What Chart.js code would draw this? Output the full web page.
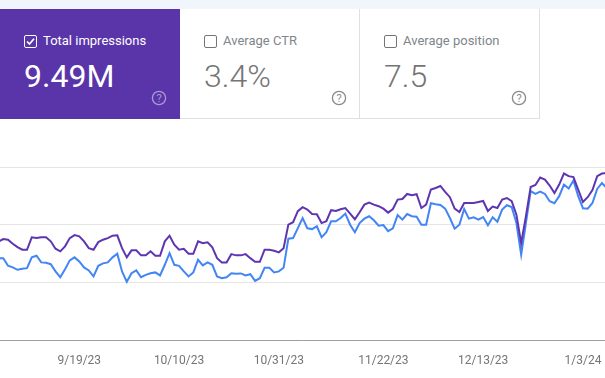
<!DOCTYPE html>
<html><head><meta charset="utf-8">
<script src="https://cdn.jsdelivr.net/npm/chart.js@4"></script>
<style>
html,body{margin:0;padding:0;background:#fff;overflow:hidden}
body{width:605px;height:378px;position:relative;font-family:Roboto,sans-serif}
.strip{position:absolute;left:0;top:0;width:605px;height:9px;background:#f1f5fc}
.card{position:absolute;top:9px;width:180px;height:110px;box-sizing:border-box;background:#fff;border-bottom:1px solid #e0e0e0;border-right:1px solid #e0e0e0;color:#757575}
.card.on{left:0;background:#5a35a9;color:#fff;border:0;height:110px}
.box{position:absolute;left:24px;top:26px;width:11px;height:11px;border:1.5px solid #757575;border-radius:2px}
.on .box{border-color:#fff}
.box svg{position:absolute;left:0;top:0}
.name{position:absolute;left:43px;top:24px;font-size:13px;line-height:16px;white-space:nowrap;color:#80868b}
.on .name{color:#fff;font-weight:400}
.val{position:absolute;left:24px;top:48px;font-size:32px;line-height:38px;white-space:nowrap;font-weight:300}
.on .val{font-weight:400}
.help{position:absolute;left:151px;top:81px}
#wrap{position:absolute;left:-10px;top:0;width:630px;height:378px}
</style></head><body>
<div class="strip"></div>
<div class="card on" style="left:0"><div class="box"><svg width="11" height="11"><path d="M2 5.5l2.5 2.5L9 2.8" fill="none" stroke="#fff" stroke-width="1.7"/></svg></div><div class="name">Total impressions</div><div class="val">9.49M</div><svg class="help" width="16" height="16"><circle cx="8" cy="8" r="6.6" fill="none" stroke="#a999d4" stroke-width="1.3"/><text x="8" y="12" font-size="11" text-anchor="middle" fill="#a999d4" font-family="Roboto">?</text></svg></div>
<div class="card" style="left:180px"><div class="box"></div><div class="name">Average CTR</div><div class="val">3.4%</div><svg class="help" width="16" height="16"><circle cx="8" cy="8" r="6.6" fill="none" stroke="#8a8a8a" stroke-width="1.3"/><text x="8" y="12" font-size="11" text-anchor="middle" fill="#8a8a8a" font-family="Roboto">?</text></svg></div>
<div class="card" style="left:360px"><div class="box"></div><div class="name">Average position</div><div class="val">7.5</div><svg class="help" width="16" height="16"><circle cx="8" cy="8" r="6.6" fill="none" stroke="#8a8a8a" stroke-width="1.3"/><text x="8" y="12" font-size="11" text-anchor="middle" fill="#8a8a8a" font-family="Roboto">?</text></svg></div>
<div id="wrap"><canvas id="c" width="630" height="378" style="display:block;width:630px;height:378px"></canvas></div>
<script>
const startDate = [2023, 8, 2];
const tickLabels = ['9/19/23','10/10/23','10/31/23','11/22/23','12/13/23','1/3/24'];
const gridValues = [0, 28.75, 57.5, 86.25];
const impressionsA = [49,50.3,50,48,46.3,45,45,51.2,50.8,51.2,51.2,49.2,45.5,44.2,46.7,50.8,52.3,51.7,49.2,45.8,45,48.8,50,50.8,52,52.2,45.8,41.2,44.7,44.7,42.2,42.2,44.2,
 42,42,49.2,52,47.5,45,45.5,43,43,49.2,48.3,48.7,46.2,40.8,38.7,38.7,42.8,42.2,42.2,42.8,40.8,39,39,45,45,44.5,43.7,45.8,57.5,58.7,
 64.2,66.2,65,62.8,62.7,58.3,59.2,64.7,64.3,65.2,65.8,63,60.2,63.7,67.5,68.5,67.5,66.7,65.5,63.5,65.3,70,70.3,72.8,72.2,72.7,65.8,67.5,75,75.8,76.8,
 73.8,71.2,65.5,63.8,68.3,68.3,68.3,68.8,69.3,64.3,66.5,65.8,70,70.8,69.2,62.5,48.3,61.7,76.3,77.3,81,80,77,73.3,77.5,83,81.7,81.2,75,68.8,71.2,74.7,81.7,83,83.3];
const impressionsB = [40.7,40.8,37,36.2,35,35.5,35.8,41.2,42,38.7,38.5,37.8,34.2,31.3,35.3,39.7,41.2,39.2,36.2,34.7,31.7,37,38.2,38.7,41.2,43,34.2,29,33.3,34.7,31.3,32.5,33.3,
 33.7,32.2,37.5,43.3,37.5,37,34.2,31.7,33.7,40,37.2,38.7,37.5,31.7,30.8,31.3,33.3,33,33.2,32.2,32.8,29.5,30.8,36,36,33.7,34.2,36,50.5,50.8,
 55.8,60.8,55.7,55.3,56.7,51.2,53.8,59.2,59.2,60.8,63,57.5,53.7,58.3,60.5,61.7,59.7,57,57.3,54.3,55.7,62.3,60,62.8,61.7,61.5,57.5,57.5,68.2,67.7,67.3,
 65.5,60.8,55.5,57.5,65.3,60.5,61.2,60,61.3,57.2,61.2,59,65,67.2,66.3,58.3,42.5,58.3,74.2,72.8,74,72.8,69.2,68.2,71.7,77.5,75.5,79.5,71.7,65.7,65.5,68.3,75.3,78.3,75.8];
const labels = impressionsA.map((_, i) => {
  const d = new Date(startDate[0], startDate[1], startDate[2] + i);
  return (d.getMonth()+1) + '/' + d.getDate() + '/' + String(d.getFullYear()).slice(2);
});
new Chart(document.getElementById('c'), {
  type: 'line',
  data: { labels, datasets: [
    { label:'Series A', data: impressionsA, borderColor:'#5e35b1', borderWidth:2, pointRadius:0, tension:0, fill:false },
    { label:'Series B', data: impressionsB, borderColor:'#4285f4', borderWidth:2, pointRadius:0, tension:0, fill:false }
  ]},
  options: {
    responsive:false, animation:false,
    layout:{ padding:{ left:8.5, right:13.3, top:167, bottom:0 } },
    plugins:{ legend:{display:false}, tooltip:{enabled:false} },
    scales:{
      x:{ offset:false,
        afterFit:s=>{ s.height = 38; s.paddingLeft = 0; s.paddingRight = 0; },
        grid:{ display:false, drawTicks:false },
        border:{ display:true, color:'#9e9e9e', width:1 },
        ticks:{ autoSkip:false, maxRotation:0, minRotation:0, padding:14, color:'#757575',
          font:{ family:'Roboto', size:12 },
          callback(v){ const l = this.getLabelForValue(v); return tickLabels.includes(l) ? l : ''; } } },
      y:{ min:0, max:gridValues[gridValues.length-1],
        afterFit:s=>{ s.width = 0; s.paddingTop = 0; s.paddingBottom = 0; },
        afterBuildTicks:s=>{ s.ticks = gridValues.map(value=>({value})); },
        border:{ display:false },
        grid:{ color:'#e6e6e6', lineWidth:1, drawTicks:false },
        ticks:{ display:false } }
    }
  }
});
</script>
</body></html>
